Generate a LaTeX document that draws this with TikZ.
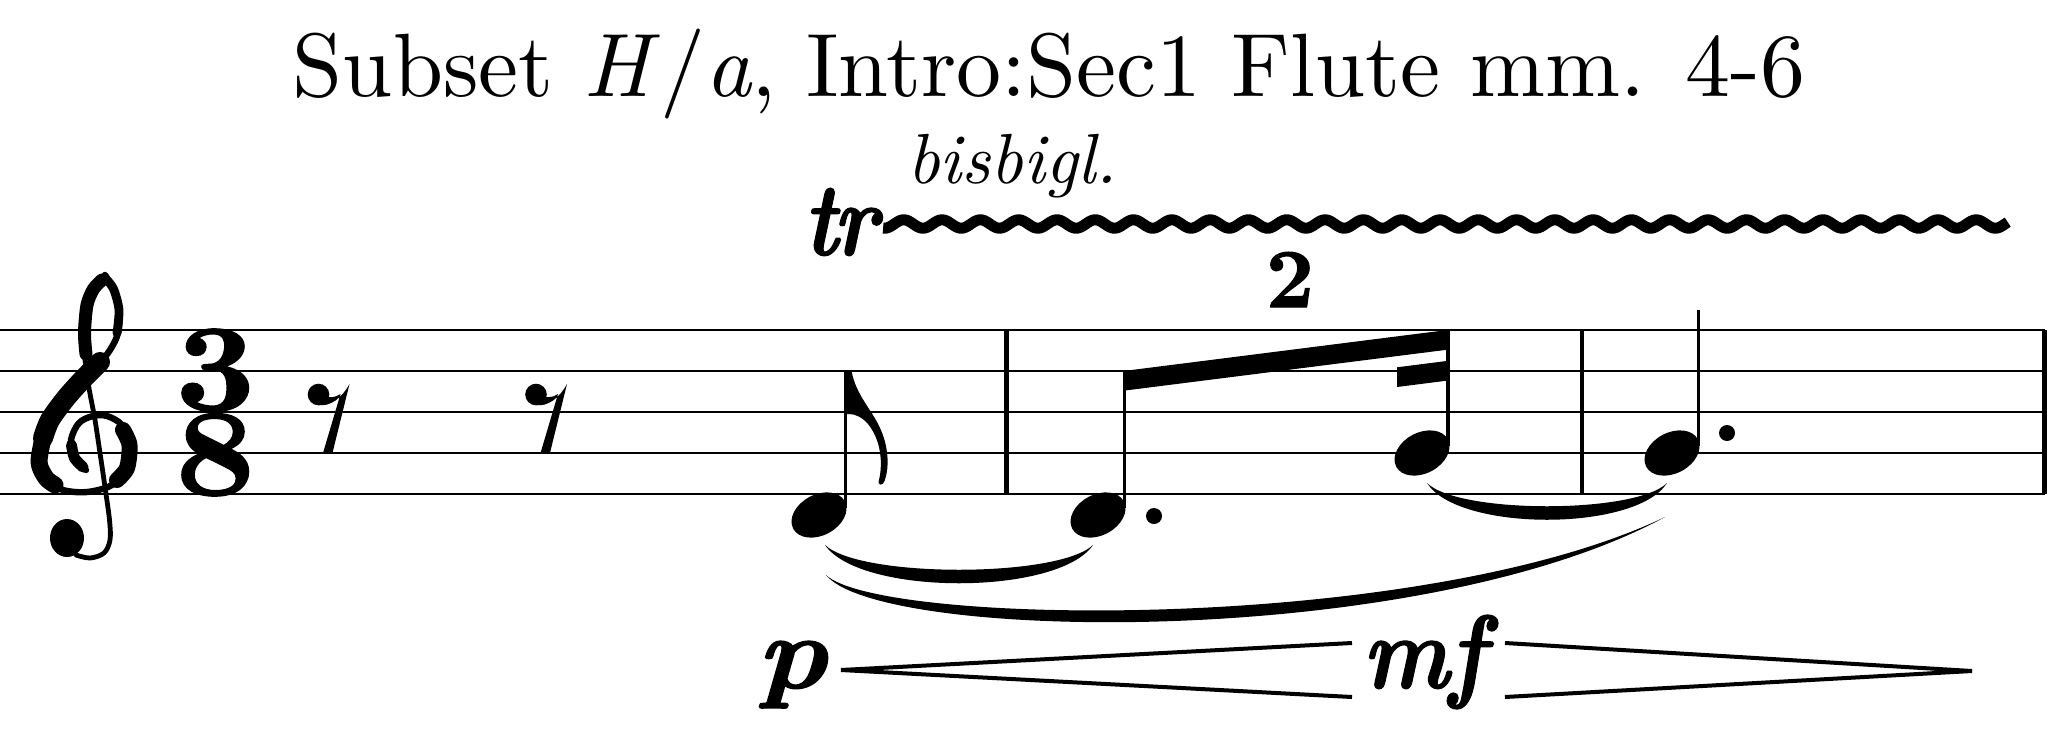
\documentclass[tikz,border=0pt]{standalone}
\usepackage{fontspec}
\setmainfont{lmroman10}[Extension=.otf, UprightFont=*-regular, BoldFont=*-bold, ItalicFont=*-italic, BoldItalicFont=*-bolditalic]
\newfontfamily\musicfont{lmroman10}[Extension=.otf, UprightFont=*-bold, ItalicFont=*-bolditalic, FakeBold=1.2]
\begin{document}
\begin{tikzpicture}[x=0.5pt,y=-0.5pt,
  staffline/.style={line width=1.35pt},
  barline/.style={line width=2.4pt},
  stemline/.style={line width=1.8pt},
  hairpin/.style={line width=2pt, line cap=butt},
  clefstroke/.style={line cap=round, line join=round},
  dyn/.style={inner sep=0pt, anchor=base west, font=\fontsize{52}{56}\selectfont\musicfont\itshape}]
\useasboundingbox (0,0) rectangle (2049,734);

% title and texts
\node[anchor=base, inner sep=0pt, font=\fontsize{45}{54}\selectfont] (title) at (1049,96.7)
  {Subset \textit{H}/\textit{a}, Intro:Sec1 Flute mm. 4-6};
\node[anchor=base west, inner sep=0pt, font=\fontsize{35.5}{40}\selectfont\itshape] (bis) at (906.7,183.3) {bisbigl.};
\node[dyn] (tr) at (803,255) {\scalebox{0.85}[1]{t\kern-0.05em r}};
\node[anchor=base, inner sep=0pt, font=\fontsize{42}{46}\selectfont\musicfont] (tup) at (1290,307) {2};

% staff
\foreach \yy in {330,371,412,453,494}
  \draw[staffline] (0,\yy) -- (2044.5,\yy);
\draw[barline] (1006.7,330) -- (1006.7,494);
\draw[barline] (1582,330) -- (1582,494);
\draw[barline] (2044.5,330) -- (2044.5,494);

% clef
\begin{scope}[clefstroke]
\draw[line width=3.2pt] plot[smooth, tension=0.55] coordinates {(105,275) (114,290) (119.5,310) (118,333) (110,350) (98,365) (84,378) (66,398) (50,420) (40,443) (37,462) (45,480) (63,490) (87,492) (112,485) (128,468) (131,445) (122,425) (107,416) (93,416) (79,423) (71,440) (74,458) (86,470)};
\draw[line width=4.4pt] plot[smooth] coordinates {(108,281) (114,290) (119,310) (117,333)};
\draw[line width=10pt] plot[smooth] coordinates {(100,362) (84,378) (66,398) (50,420) (43,438)};
\draw[line width=8.5pt] plot[smooth] coordinates {(44,434) (39,462) (46,478) (55,485)};
\draw[line width=8pt] plot[smooth] coordinates {(117,480) (127,468) (129.5,445) (123,430)};
\draw[line width=5.5pt] plot[smooth] coordinates {(71.5,445) (74.5,458) (83,467)};
\draw[line width=6.5pt] plot[smooth] coordinates {(102,280) (93.5,289) (87,305) (84.5,333) (86,354)};
\draw[line width=2.4pt] plot[smooth, tension=0.55] coordinates {(105,275) (93,285) (86,305) (83,333) (85,360) (89,388) (95,420) (100,453) (105,487) (109.5,520) (110,540) (104,553) (90,558) (76,555)};
\fill (67,538) ellipse[x radius=8.5pt, y radius=9.5pt];
\end{scope}

% time signature (one node, two stacked digits)
\node[inner sep=0pt, align=center, font=\fontsize{62}{41}\selectfont\musicfont] (tsig) at (215.3,412.5)
  {\scalebox{1.12}[1]{3}\\\scalebox{1.12}[1]{8}};

% eighth rests
\foreach \dx in {0,217.5}{
  \begin{scope}[xshift=\dx*0.5pt]
  \fill (318.5,394.5) circle[radius=5.4pt];
  \fill (318.5,405) .. controls (330,407) and (342,398) .. (349.5,384) -- (332.7,452) -- (323.3,452)
        -- (340.5,394) .. controls (335,398) and (328,398) .. (320,396) -- cycle;
  \end{scope}
}

% note 1 (D4 eighth)
\fill[rotate around={28:(819,515)}] (819,515) ellipse[x radius=14.6pt, y radius=10.2pt];
\draw[stemline] (845.5,508) -- (845.5,371.7);
\fill (844.6,371.7) -- (851.7,371.7) .. controls (856,395) and (872,410) .. (880,428)
   .. controls (888,445) and (890,466) .. (884.5,481) .. controls (883,486) and (877,486) .. (879,480)
   .. controls (883,463) and (881,440) .. (868,424) .. controls (862,417) and (855,414) .. (849,414)
   -- (844.6,414) -- cycle;

% note 2 (D4 dotted eighth)
\fill[rotate around={28:(1098,515)}] (1098,515) ellipse[x radius=14.6pt, y radius=10.2pt];
\draw[stemline] (1124.5,508) -- (1124.5,372);
\fill (1154,516) circle[radius=4pt];

% note 3 (G4 sixteenth)
\fill[rotate around={28:(1422,453)}] (1422,453) ellipse[x radius=14.6pt, y radius=10.2pt];
\draw[stemline] (1448,446) -- (1448,331);

% beams
\fill (1123.6,371) -- (1448.9,329.8) -- (1448.9,349.5) -- (1123.6,390.7) -- cycle;
\fill (1397,367.3) -- (1448.9,360.7) -- (1448.9,380.4) -- (1397,387) -- cycle;

% note 4 (G4 dotted quarter)
\fill[rotate around={28:(1672,453)}] (1672,453) ellipse[x radius=14.6pt, y radius=10.2pt];
\draw[stemline] (1698.5,446) -- (1698.5,310);
\fill (1727,433) circle[radius=4pt];

% ties and slur
\fill (825,545) .. controls (860,596) and (1058,596) .. (1093,545)
   .. controls (1058,578) and (860,578) .. (825,545) -- cycle;
\fill (1427,483) .. controls (1458,532) and (1636,532) .. (1667,483)
   .. controls (1636,514) and (1458,514) .. (1427,483) -- cycle;
\fill (826,575) .. controls (880,642) and (1420,650) .. (1665,517)
   .. controls (1420,634) and (880,626) .. (826,575) -- cycle;

% trill line
\draw[line width=5.5pt] plot[domain=-0.29:29.08, samples=700, variable=\t]
  ({894.2+38.3*\t}, {224-4.2*sin(360*\t)});

% dynamics
\node[dyn] (dynp) at (756,688) {\scalebox{1.15}[1]{p}};
\node[dyn] (dynmf) at (1362,688) {\scalebox{0.88}[1]{mf}};
\coordinate (cr0) at (841,670);
\draw[hairpin] (cr0) -- (1352,643);
\draw[hairpin] (cr0) -- (1352,697);
\coordinate (dc1) at (1972,671);
\draw[hairpin] (1505,643) -- (dc1);
\draw[hairpin] (1505,697) -- (dc1);
\end{tikzpicture}
\end{document}
